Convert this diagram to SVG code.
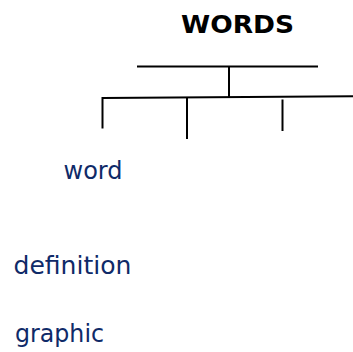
<svg xmlns="http://www.w3.org/2000/svg" width="353" height="352" viewBox="0 0 353 352">
<style>
.title{font-family:"DejaVu Sans","Liberation Sans",sans-serif;font-weight:bold;font-size:24px;fill:#000}
.lbl{font-family:"DejaVu Sans","Liberation Sans",sans-serif;font-size:25px;fill:#0f2a68}
.ln{stroke:#000;stroke-width:2;fill:none}
</style>
<rect width="353" height="352" fill="#fff"/>
<g id="title"><text class="title" x="181" y="33" textLength="113" lengthAdjust="spacingAndGlyphs">WORDS</text></g>
<g id="connectors">
<line class="ln" x1="137" y1="66.5" x2="318" y2="66.5"/>
<line class="ln" x1="229" y1="66.5" x2="229" y2="97"/>
<line class="ln" x1="102.5" y1="98" x2="353" y2="96.3"/>
<line class="ln" x1="102.5" y1="97" x2="102.5" y2="128.5"/>
<line class="ln" x1="187" y1="97.5" x2="187" y2="139"/>
<line class="ln" x1="282.5" y1="99.5" x2="282.5" y2="131"/>
</g>
<g id="word"><text class="lbl" x="63.5" y="178.5" textLength="59" lengthAdjust="spacingAndGlyphs">word</text></g>
<g id="definition"><text class="lbl" x="13.5" y="273.5" textLength="118" lengthAdjust="spacingAndGlyphs">definition</text></g>
<g id="graphic"><text class="lbl" x="15" y="341.5" textLength="89" lengthAdjust="spacingAndGlyphs">graphic</text></g>
</svg>
